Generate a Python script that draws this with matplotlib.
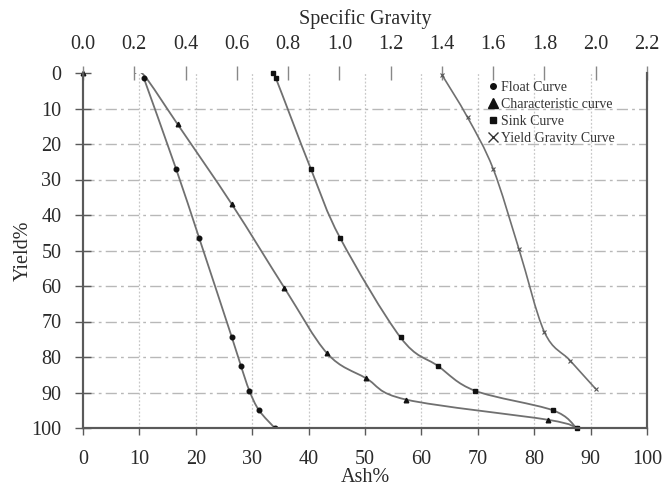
import matplotlib
matplotlib.use("Agg")
import matplotlib.pyplot as plt
import numpy as np
from matplotlib.path import Path
from matplotlib.patches import PathPatch
from matplotlib.lines import Line2D

# ---- data ----
float_ash = [10.8, 16.5, 20.6, 26.4, 28.0, 29.5, 31.2, 34.0]
float_yield = [1.5, 27, 46.5, 74.5, 82.5, 89.5, 95, 100]

char_ash = [9.2, 10.9, 16.8, 26.4, 35.7, 43.3, 50.2, 57.3, 82.5, 87.5]
char_yield = [0, 0.8, 14.5, 37, 60.5, 79, 86, 92, 97.7, 100]
char_origin_ash = [0]
char_origin_yield = [0]

sink_ash = [33.6, 34.2, 40.4, 45.6, 56.3, 62.9, 69.5, 83.3, 87.5]
sink_yield = [0, 1.5, 27, 46.5, 74.5, 82.5, 89.5, 95, 100]

sg_values = [1.4, 1.5, 1.6, 1.7, 1.8, 1.9, 2.0]
sg_yield = [0.5, 12.5, 27, 49.5, 73, 81, 89]

ash_ticks = list(range(0, 101, 10))
yield_ticks = list(range(0, 101, 10))
sg_ticks = [0.0, 0.2, 0.4, 0.6, 0.8, 1.0, 1.2, 1.4, 1.6, 1.8, 2.0, 2.2]

legend_labels = ["Float Curve", "Characteristic curve", "Sink Curve", "Yield Gravity Curve"]

plt.rcParams['font.family'] = ['Liberation Serif', 'DejaVu Serif']

LINE_C = "#707070"
TXT_C = "#2a2a2a"
SPINE_C = "#5a5a5a"
FS = 14.5


def smooth_patch(ax, xs, ys, **kw):
    pts = np.column_stack([xs, ys]).astype(float)
    n = len(pts)
    verts = [pts[0]]
    codes = [Path.MOVETO]
    for i in range(n - 1):
        p0 = pts[i - 1] if i > 0 else pts[i]
        p1 = pts[i]
        p2 = pts[i + 1]
        p3 = pts[i + 2] if i + 2 < n else pts[i + 1]
        c1 = p1 + (p2 - p0) / 6.0
        c2 = p2 - (p3 - p1) / 6.0
        verts += [c1, c2, p2]
        codes += [Path.CURVE4] * 3
    patch = PathPatch(Path(verts, codes), facecolor="none", **kw)
    ax.add_patch(patch)
    return patch


fig = plt.figure(figsize=(6.62, 4.92), dpi=100)
ax = fig.add_axes([83 / 662, 1 - 428 / 492, (647 - 83) / 662, (428 - 73) / 492])

ax.set_xlim(0, 100)
ax.set_ylim(100, 0)
ax.set_xticks(ash_ticks)
ax.set_yticks(yield_ticks)

# grid
for v in ash_ticks[1:-1]:
    ax.axvline(v, color="#c8c8c8", lw=0.9, ls=(0, (1.5, 1.5)), zorder=0)
for v in yield_ticks[1:-1]:
    ax.axhline(v, color="#b8b8b8", lw=1.0, ls=(0, (8, 3, 2, 3)), zorder=0)

# curves
smooth_patch(ax, float_ash, float_yield, edgecolor=LINE_C, lw=1.3, zorder=3)
ax.plot(float_ash, float_yield, ls="none", marker="o", ms=3.3, color="#111111", zorder=4)

smooth_patch(ax, char_ash, char_yield, edgecolor=LINE_C, lw=1.3, zorder=3)
ax.plot(char_ash[2:], char_yield[2:], ls="none", marker="^", ms=3.3, color="#111111", zorder=4)
ax.plot(char_origin_ash, char_origin_yield, ls="none", marker="^", ms=3.3, color="#111111", zorder=4, clip_on=False)

smooth_patch(ax, sink_ash, sink_yield, edgecolor=LINE_C, lw=1.3, zorder=3)
ax.plot(sink_ash, sink_yield, ls="none", marker="s", ms=3.3, color="#111111", zorder=4, clip_on=False)

# top axis
ax2 = ax.twiny()
ax2.set_xlim(0, 2.2)
ax2.set_ylim(100, 0)
ax2.set_xticks(sg_ticks)
ax2.set_xticklabels([f"{v:.1f}" for v in sg_ticks])
smooth_patch(ax2, sg_values, sg_yield, edgecolor=LINE_C, lw=1.2, zorder=3)
ax2.plot(sg_values, sg_yield, ls="none", marker="x", ms=3.2, mew=0.8, color="#555555", zorder=4, clip_on=False)

for a in (ax, ax2):
    a.spines["top"].set_visible(False)
    for s in ("left", "bottom", "right"):
        a.spines[s].set_color(SPINE_C)
        a.spines[s].set_linewidth(1.5)

ax.tick_params(axis="x", direction="out", length=5, width=1, color=SPINE_C,
               labelsize=FS, labelcolor=TXT_C, pad=11)
ax.tick_params(axis="y", direction="inout", length=11, width=1, color=SPINE_C,
               labelsize=FS, labelcolor=TXT_C, pad=10)
ax2.tick_params(axis="x", direction="inout", length=10, width=1, color="#888888",
                labelsize=FS, labelcolor=TXT_C, pad=8.5)

ax.set_xlabel("Ash%", fontsize=FS, color=TXT_C, labelpad=-1)
ax.set_ylabel("Yield%", fontsize=FS, color=TXT_C, labelpad=-1)
ax2.set_xlabel("Specific Gravity", fontsize=FS, color=TXT_C, labelpad=8)

handles = [
    Line2D([], [], ls="none", marker="o", ms=4, color="#111111"),
    Line2D([], [], ls="none", marker="^", ms=7, color="#111111"),
    Line2D([], [], ls="none", marker="s", ms=4.5, color="#111111"),
    Line2D([], [], ls="none", marker="x", ms=7, mew=1, color="#333333"),
]
leg = ax2.legend(handles, legend_labels, loc="upper left", bbox_to_anchor=(0.705, 1.0),
                 frameon=False, fontsize=10, handlelength=0.6, handletextpad=0.3,
                 labelspacing=0.28, borderaxespad=0.2)
for t in leg.get_texts():
    t.set_color("#333333")

fig.savefig("out.png", dpi=100)
